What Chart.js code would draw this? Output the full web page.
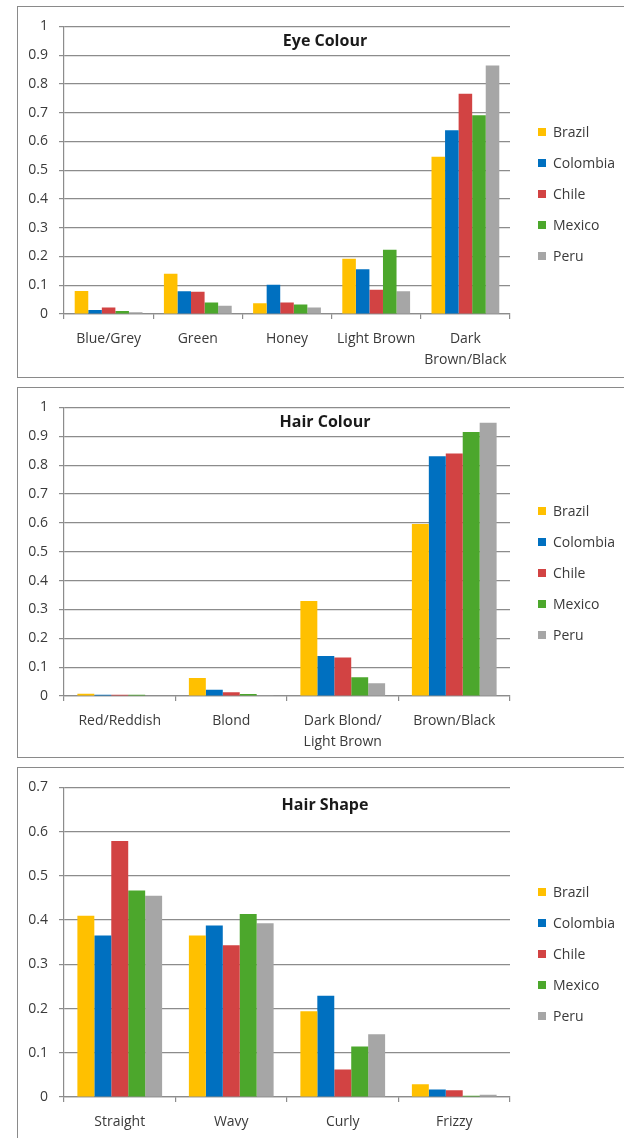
<!DOCTYPE html>
<html>
<head>
<meta charset="utf-8">
<script src="https://cdn.jsdelivr.net/npm/chart.js@4.4.1/dist/chart.umd.min.js"></script>
<style>
  html, body { margin: 0; padding: 0; background: #fff; width: 624px; height: 1138px; overflow: hidden; }
  .panel { position: absolute; left: 17px; width: 640px; border: 1px solid #8a8a8a; box-sizing: border-box; background: #fff; }
  .panel canvas { position: absolute; left: 0; top: 0; }
</style>
</head>
<body>
<div class="panel" style="top:6px;height:372px"><canvas id="eyeChart"></canvas></div>
<div class="panel" style="top:387px;height:371px"><canvas id="hairColourChart"></canvas></div>
<div class="panel" style="top:767px;height:374px"><canvas id="hairShapeChart"></canvas></div>
<script>
// Series and colours
const countries = ['Brazil', 'Colombia', 'Chile', 'Mexico', 'Peru'];
const countryColours = ['#FFC000', '#0070C0', '#D24343', '#4CA72C', '#A6A6A6'];

// Eye colour (proportion of sample)
const eyeCategories = ['Blue/Grey', 'Green', 'Honey', 'Light Brown', ['Dark', 'Brown/Black']];
const eyeBrazil   = [0.080, 0.140, 0.037, 0.192, 0.547];
const eyeColombia = [0.014, 0.079, 0.102, 0.156, 0.639];
const eyeChile    = [0.023, 0.077, 0.040, 0.084, 0.766];
const eyeMexico   = [0.010, 0.040, 0.033, 0.223, 0.691];
const eyePeru     = [0.006, 0.029, 0.023, 0.079, 0.864];

// Hair colour
const hairColourCategories = ['Red/Reddish', 'Blond', ['Dark Blond/', 'Light Brown'], 'Brown/Black'];
const hairColourBrazil   = [0.008, 0.062, 0.329, 0.596];
const hairColourColombia = [0.004, 0.022, 0.139, 0.831];
const hairColourChile    = [0.004, 0.013, 0.133, 0.840];
const hairColourMexico   = [0.004, 0.007, 0.065, 0.915];
const hairColourPeru     = [0.000, 0.003, 0.044, 0.947];

// Hair shape
const hairShapeCategories = ['Straight', 'Wavy', 'Curly', 'Frizzy'];
const hairShapeBrazil   = [0.410, 0.365, 0.194, 0.029];
const hairShapeColombia = [0.365, 0.388, 0.229, 0.017];
const hairShapeChile    = [0.579, 0.343, 0.062, 0.015];
const hairShapeMexico   = [0.467, 0.414, 0.114, 0.003];
const hairShapePeru     = [0.455, 0.393, 0.142, 0.005];

const FONT = '"Open Sans", "DejaVu Sans", sans-serif';
const GRID = '#8c8c8c';
const TEXT = '#3a3a3a';

// Title inside the plot and a legend column to the right of the plot area
const panelDecor = {
  id: 'panelDecor',
  afterDraw(chart, args, opts) {
    const { ctx, chartArea, width } = chart;
    ctx.save();
    ctx.fillStyle = '#1a1a1a';
    ctx.font = 'bold 16px ' + FONT;
    ctx.textAlign = 'center';
    ctx.textBaseline = 'middle';
    ctx.fillText(opts.text, width / 2, chartArea.top + opts.titleOffset);
    ctx.font = '14px ' + FONT;
    ctx.textAlign = 'left';
    chart.data.datasets.forEach((ds, i) => {
      const y = opts.legendTop + i * opts.legendGap;
      ctx.fillStyle = ds.backgroundColor;
      ctx.fillRect(chartArea.right + 28, y - 4, 8, 8);
      ctx.fillStyle = TEXT;
      ctx.fillText(ds.label, chartArea.right + 43, y + 1);
    });
    ctx.restore();
  }
};

function makeChart(id, h, xAxisHeight, categories, series, yMax, title, titleOffset, legendTop) {
  const canvas = document.getElementById(id);
  canvas.width = 614;
  canvas.height = h;
  canvas.style.width = '614px';
  canvas.style.height = h + 'px';
  return new Chart(canvas, {
    type: 'bar',
    data: {
      labels: categories,
      datasets: series.map((values, i) => ({
        label: countries[i],
        data: values,
        backgroundColor: countryColours[i],
        borderWidth: 0,
        categoryPercentage: 0.76,
        barPercentage: 1.0
      }))
    },
    options: {
      responsive: false,
      animation: false,
      devicePixelRatio: 1,
      layout: { padding: { top: 18, right: 122, bottom: 0, left: 0 } },
      plugins: {
        legend: { display: false },
        tooltip: { enabled: false },
        panelDecor: { text: title, titleOffset: titleOffset, legendTop: legendTop, legendGap: 31 }
      },
      scales: {
        x: {
          afterFit(scale) { scale.height = xAxisHeight; },
          grid: { display: true, drawOnChartArea: false, drawTicks: true, tickLength: 5, color: GRID, lineWidth: 1.2, offset: true },
          border: { display: true, color: GRID, width: 1.2 },
          ticks: { color: TEXT, font: { family: FONT, size: 14, lineHeight: 1.5 }, padding: 10, maxRotation: 0, autoSkip: false }
        },
        y: {
          min: 0,
          max: yMax,
          afterFit(scale) { scale.width = 46; },
          grid: { color: GRID, lineWidth: 1.2, tickLength: 5, drawTicks: true },
          border: { display: true, color: GRID, width: 1.2 },
          ticks: {
            stepSize: 0.1,
            color: TEXT,
            font: { family: FONT, size: 14 },
            padding: 11,
            callback: (value) => String(Number(value.toFixed(1)))
          }
        }
      }
    },
    plugins: [panelDecor]
  });
}

makeChart('eyeChart', 370, 63, eyeCategories,
  [eyeBrazil, eyeColombia, eyeChile, eyeMexico, eyePeru], 1, 'Eye Colour', 15, 125);
makeChart('hairColourChart', 369, 61, hairColourCategories,
  [hairColourBrazil, hairColourColombia, hairColourChile, hairColourMexico, hairColourPeru], 1, 'Hair Colour', 15, 123);
makeChart('hairShapeChart', 372, 43, hairShapeCategories,
  [hairShapeBrazil, hairShapeColombia, hairShapeChile, hairShapeMexico, hairShapePeru], 0.7, 'Hair Shape', 18, 124);
</script>
</body>
</html>
